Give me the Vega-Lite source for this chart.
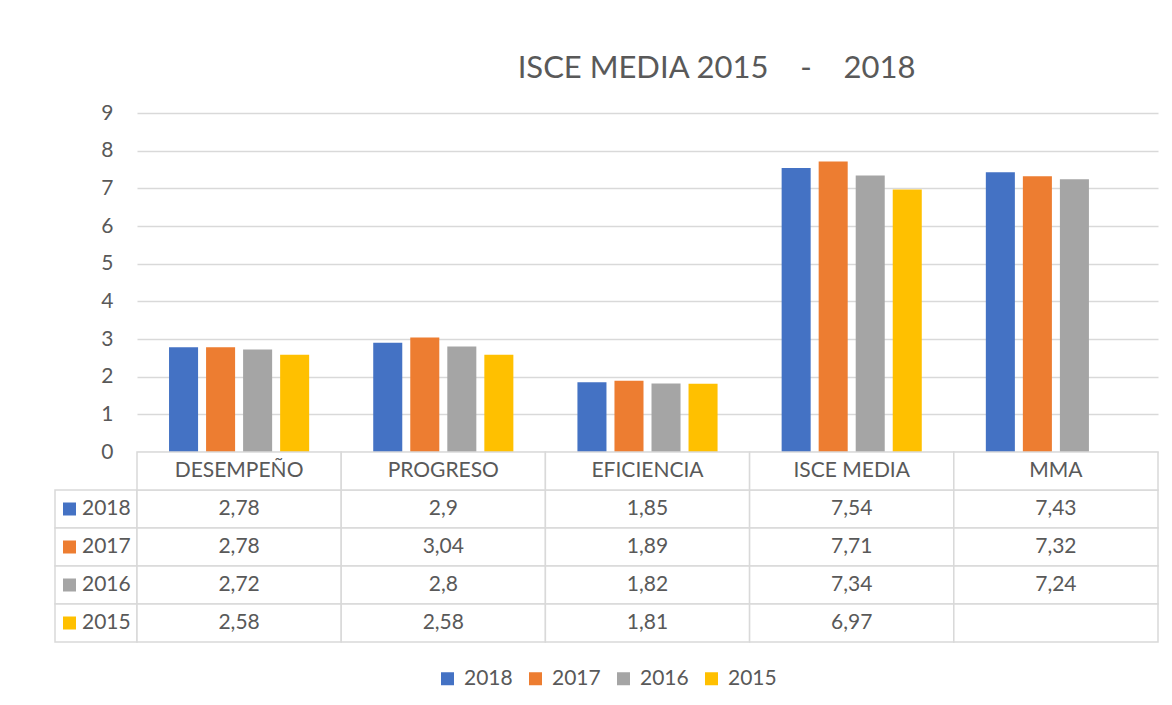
{
  "$schema": "https://vega.github.io/schema/vega-lite/v6.json",
  "padding": {"left": 54, "top": 53, "right": 10, "bottom": 10},
  "background": "white",
  "title": {"text": "ISCE MEDIA 2015\u00a0\u00a0\u00a0\u00a0-\u00a0\u00a0\u00a0\u00a02018", "fontSize": 31, "fontWeight": "normal", "color": "#595959", "font": "Lato", "anchor": "middle", "dx": 110, "offset": 17},
  "datasets": {
    "scores": [
      {"cat": "DESEMPEÑO", "year": "2018", "value": 2.78},
      {"cat": "DESEMPEÑO", "year": "2017", "value": 2.78},
      {"cat": "DESEMPEÑO", "year": "2016", "value": 2.72},
      {"cat": "DESEMPEÑO", "year": "2015", "value": 2.58},
      {"cat": "PROGRESO", "year": "2018", "value": 2.9},
      {"cat": "PROGRESO", "year": "2017", "value": 3.04},
      {"cat": "PROGRESO", "year": "2016", "value": 2.8},
      {"cat": "PROGRESO", "year": "2015", "value": 2.58},
      {"cat": "EFICIENCIA", "year": "2018", "value": 1.85},
      {"cat": "EFICIENCIA", "year": "2017", "value": 1.89},
      {"cat": "EFICIENCIA", "year": "2016", "value": 1.82},
      {"cat": "EFICIENCIA", "year": "2015", "value": 1.81},
      {"cat": "ISCE MEDIA", "year": "2018", "value": 7.54},
      {"cat": "ISCE MEDIA", "year": "2017", "value": 7.71},
      {"cat": "ISCE MEDIA", "year": "2016", "value": 7.34},
      {"cat": "ISCE MEDIA", "year": "2015", "value": 6.97},
      {"cat": "MMA", "year": "2018", "value": 7.43},
      {"cat": "MMA", "year": "2017", "value": 7.32},
      {"cat": "MMA", "year": "2016", "value": 7.24},
      {"cat": "MMA", "year": "2015", "value": null}
    ],
    "years": [{"year": "2018"}, {"year": "2017"}, {"year": "2016"}, {"year": "2015"}],
    "cats": [{"cat": "DESEMPEÑO"}, {"cat": "PROGRESO"}, {"cat": "EFICIENCIA"}, {"cat": "ISCE MEDIA"}, {"cat": "MMA"}]
  },
  "columns": 2,
  "bounds": "flush",
  "spacing": 0,
  "concat": [
    {
      "width": 82, "height": 339,
      "data": {"values": []},
      "mark": "point",
      "encoding": {}
    },
    {
      "width": 1021, "height": 339,
      "data": {"name": "scores"},
      "transform": [{"filter": "datum.value != null"}],
      "mark": {"type": "bar"},
      "encoding": {
        "x": {"field": "cat", "type": "nominal", "sort": null, "scale": {"domain": ["DESEMPEÑO", "PROGRESO", "EFICIENCIA", "ISCE MEDIA", "MMA"], "paddingInner": 0, "paddingOuter": 0}, "axis": null},
        "xOffset": {"field": "year", "type": "nominal", "scale": {"domain": ["2018", "2017", "2016", "2015"], "paddingInner": 0.216, "paddingOuter": 0.865}},
        "y": {"field": "value", "type": "quantitative", "scale": {"domain": [0, 9], "nice": false}, "axis": {"values": [0, 1, 2, 3, 4, 5, 6, 7, 8, 9], "title": null, "domain": false, "ticks": false, "grid": true, "gridColor": "#d9d9d9", "gridWidth": 1.5, "labelFontSize": 21, "labelColor": "#595959", "labelPadding": 24, "labelFont": "Lato"}},
        "color": {"field": "year", "type": "nominal", "scale": {"domain": ["2018", "2017", "2016", "2015"], "range": ["#4472C4", "#ED7D31", "#A5A5A5", "#FFC000"]}, "legend": {"title": null, "orient": "bottom", "direction": "horizontal", "symbolType": "square", "symbolSize": 169, "symbolStrokeWidth": 0, "labelFontSize": 21, "labelColor": "#595959", "labelFont": "Lato", "labelOffset": 6, "columnPadding": 12, "offset": 25}}
      }
    },
    {
      "width": 82, "height": 190,
      "data": {"name": "years"},
      "layer": [
        {
          "mark": {"type": "rect", "fill": "white", "stroke": "#d9d9d9", "strokeWidth": 1.5},
          "encoding": {
            "x": {"datum": "k", "type": "nominal", "scale": {"domain": ["k"], "paddingInner": 0, "paddingOuter": 0}, "axis": null},
            "y": {"field": "year", "type": "nominal", "scale": {"domain": ["hdr", "2018", "2017", "2016", "2015"], "paddingInner": 0, "paddingOuter": 0}, "axis": null}
          }
        },
        {
          "mark": {"type": "point", "shape": "square", "filled": true, "size": 169, "xOffset": -26.5, "opacity": 1},
          "encoding": {
            "x": {"datum": "k", "type": "nominal", "axis": null},
            "y": {"field": "year", "type": "nominal", "axis": null},
            "color": {"field": "year", "type": "nominal"}
          }
        },
        {
          "mark": {"type": "text", "align": "left", "dx": -14, "fontSize": 21, "color": "#595959", "font": "Lato"},
          "encoding": {
            "x": {"datum": "k", "type": "nominal", "axis": null},
            "y": {"field": "year", "type": "nominal", "axis": null},
            "text": {"field": "year", "type": "nominal"}
          }
        }
      ]
    },
    {
      "width": 1021, "height": 190,
      "layer": [
        {
          "data": {"name": "scores"},
          "mark": {"type": "rect", "fill": "white", "stroke": "#d9d9d9", "strokeWidth": 1.5},
          "encoding": {
            "x": {"field": "cat", "type": "nominal", "sort": null, "scale": {"domain": ["DESEMPEÑO", "PROGRESO", "EFICIENCIA", "ISCE MEDIA", "MMA"], "paddingInner": 0, "paddingOuter": 0}, "axis": null},
            "y": {"field": "year", "type": "nominal", "scale": {"domain": ["hdr", "2018", "2017", "2016", "2015"], "paddingInner": 0, "paddingOuter": 0}, "axis": null}
          }
        },
        {
          "data": {"name": "cats"},
          "mark": {"type": "rect", "fill": "white", "stroke": "#d9d9d9", "strokeWidth": 1.5},
          "encoding": {
            "x": {"field": "cat", "type": "nominal", "axis": null},
            "y": {"datum": "hdr", "type": "nominal", "axis": null}
          }
        },
        {
          "data": {"name": "scores"},
          "transform": [{"filter": "datum.value != null"}],
          "mark": {"type": "text", "fontSize": 21, "color": "#595959", "font": "Lato"},
          "encoding": {
            "x": {"field": "cat", "type": "nominal", "axis": null},
            "y": {"field": "year", "type": "nominal", "axis": null},
            "text": {"field": "value", "type": "quantitative", "format": "~g"}
          }
        },
        {
          "data": {"name": "cats"},
          "mark": {"type": "text", "fontSize": 21, "color": "#595959", "font": "Lato"},
          "encoding": {
            "x": {"field": "cat", "type": "nominal", "axis": null},
            "y": {"datum": "hdr", "type": "nominal", "axis": null},
            "text": {"field": "cat", "type": "nominal"}
          }
        }
      ]
    }
  ],
  "resolve": {"scale": {"color": "shared"}, "legend": {"color": "shared"}},
  "config": {
    "font": "Lato",
    "view": {"stroke": null},
    "locale": {"number": {"decimal": ",", "thousands": ".", "grouping": [3], "currency": ["", " €"]}},
    "legend": {"layout": {"bottom": {"anchor": "middle"}}}
  }
}
